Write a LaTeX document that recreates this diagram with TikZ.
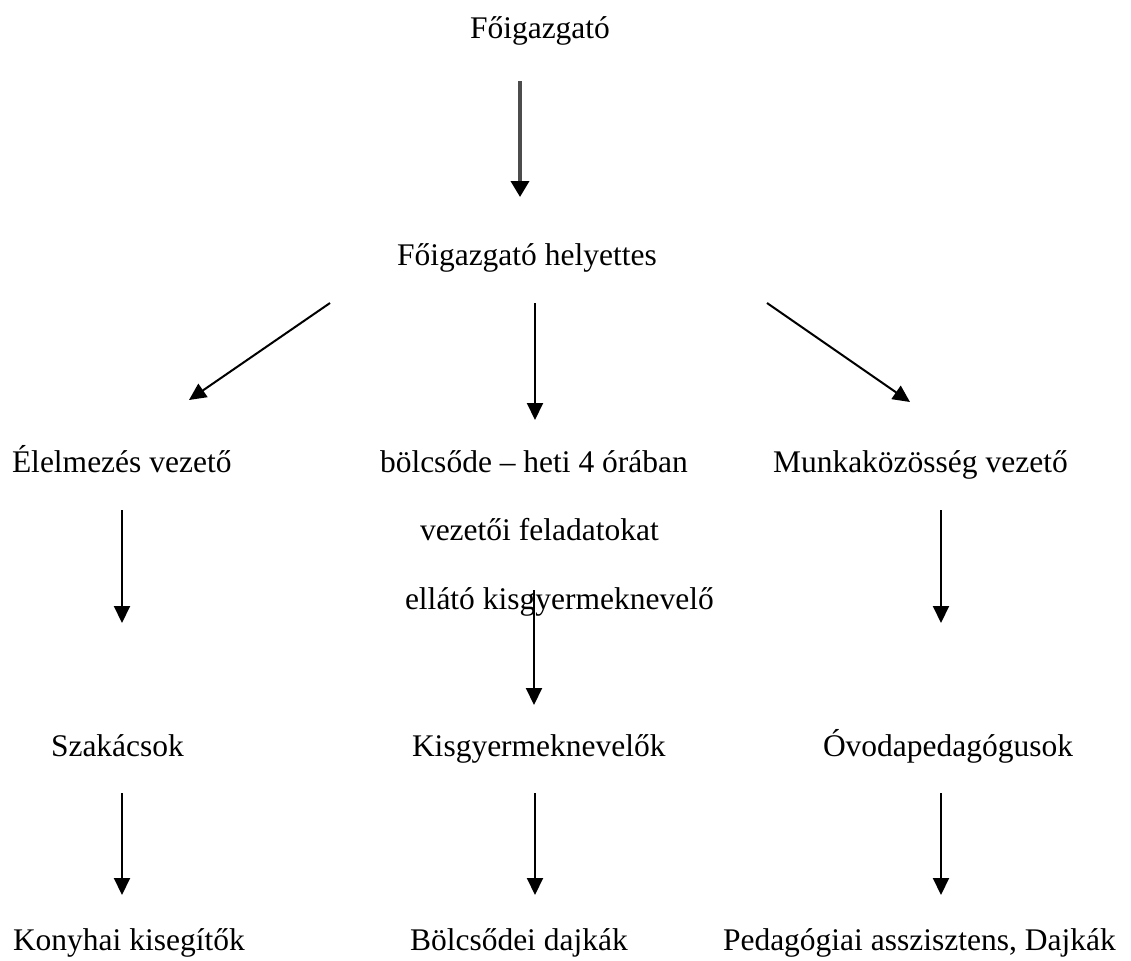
\documentclass[tikz,border=0pt]{standalone}
\usepackage{fontspec}
\setmainfont{Liberation Serif}
\usetikzlibrary{arrows.meta}
\tikzset{
  lbl/.style={anchor=base west, inner sep=0pt, outer sep=0pt, font=\fontsize{15.75}{19}\selectfont},
  arr/.style={line width=1pt, -{Triangle[width=8pt,length=8.5pt]}},
  grayarr/.style={line width=1.8pt, draw=black!70, -{Triangle[width=9pt,length=8pt,color=black]}}
}
\begin{document}
\begin{tikzpicture}[x=0.5pt,y=-0.5pt]
\useasboundingbox (0,0) rectangle (1131,960);
% texts
\node[lbl] (fo) at (470,38) {Főigazgató};
\node[lbl] (he) at (397,265) {Főigazgató helyettes};
\node[lbl] (el) at (12,472) {Élelmezés vezető};
\node[lbl] (bo1) at (380,472) {bölcsőde – heti 4 órában};
\node[lbl] (mu) at (773,472) {Munkaközösség vezető};
\node[lbl] (bo2) at (420,540) {vezetői feladatokat};
\node[lbl] (bo3) at (405,609) {ellátó kisgyermeknevelő};
\node[lbl] (sz) at (51,756) {Szakácsok};
\node[lbl] (ki) at (412,756) {Kisgyermeknevelők};
\node[lbl] (ov) at (823,756) {Óvodapedagógusok};
\node[lbl] (ko) at (13,950) {Konyhai kisegítők};
\node[lbl] (bd) at (410,950) {Bölcsődei dajkák};
\node[lbl] (pe) at (723,950) {Pedagógiai asszisztens, Dajkák};
% connector end points
\coordinate (a0s) at (520,81);  \coordinate (a0e) at (520,197);
\coordinate (a1s) at (330,303); \coordinate (a1e) at (189,400);
\coordinate (a2s) at (535,303); \coordinate (a2e) at (535,420);
\coordinate (a3s) at (767,303); \coordinate (a3e) at (910,402);
\coordinate (b1s) at (122,510); \coordinate (b1e) at (122,623);
\coordinate (b2s) at (534,590); \coordinate (b2e) at (534,705);
\coordinate (b3s) at (941,510); \coordinate (b3e) at (941,623);
\coordinate (c1s) at (122,793); \coordinate (c1e) at (122,895);
\coordinate (c2s) at (535,793); \coordinate (c2e) at (535,895);
\coordinate (c3s) at (941,793); \coordinate (c3e) at (941,895);
% connectors
\draw[grayarr] (a0s) -- (a0e);
\draw[arr] (a1s) -- (a1e);
\draw[arr] (a2s) -- (a2e);
\draw[arr] (a3s) -- (a3e);
\draw[arr] (b1s) -- (b1e);
\draw[arr] (b2s) -- (b2e);
\draw[arr] (b3s) -- (b3e);
\draw[arr] (c1s) -- (c1e);
\draw[arr] (c2s) -- (c2e);
\draw[arr] (c3s) -- (c3e);
\end{tikzpicture}
\end{document}
